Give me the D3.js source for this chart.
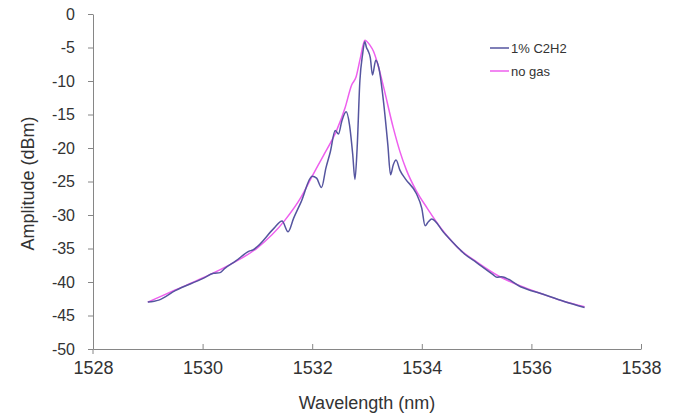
<!DOCTYPE html>
<html>
<head>
<meta charset="utf-8">
<script src="https://cdn.jsdelivr.net/npm/d3@7"></script>
<style>
  body { margin: 0; background: #fff; }
  text { font-family: "Liberation Sans", Arial, sans-serif; fill: #333; }
</style>
</head>
<body>
<svg id="chart"></svg>
<script>
// wavelength (nm) / amplitude (dBm)
let gasWl = [1529.0, 1529.2, 1529.5, 1530.0, 1530.2, 1530.32, 1530.4, 1530.6, 1530.85, 1530.92,
  1531.0, 1531.3, 1531.45, 1531.56, 1531.66, 1531.8, 1532.0, 1532.08, 1532.17, 1532.25,
  1532.33, 1532.42, 1532.48, 1532.54, 1532.62, 1532.68, 1532.74, 1532.78, 1532.82, 1532.87,
  1532.92, 1532.96, 1532.99, 1533.02, 1533.06, 1533.1, 1533.16, 1533.22, 1533.3, 1533.38,
  1533.43, 1533.48, 1533.53, 1533.6, 1533.7, 1533.9, 1534.0, 1534.06, 1534.12, 1534.18,
  1534.4, 1534.7, 1534.75, 1535.0, 1535.3, 1535.37, 1535.45, 1535.8, 1536.2, 1536.6, 1536.97];
let gasAmp = [-43.0, -42.7, -41.3, -39.5, -38.7, -38.6, -38.0, -36.9, -35.4, -35.2,
  -34.7, -32.0, -30.9, -32.5, -30.5, -28.0, -24.2, -24.5, -25.9, -23.0,
  -20.6, -17.4, -17.9, -16.0, -14.6, -16.5, -21.0, -24.7, -20.0, -10.0,
  -6.0, -4.1, -5.0, -5.5, -6.5, -9.1, -6.9, -8.2, -13.0, -19.5,
  -24.0, -22.5, -21.8, -23.3, -24.6, -26.8, -29.0, -31.6, -31.0, -30.6,
  -32.6, -35.2, -35.6, -37.1, -38.9, -39.3, -39.2, -40.7, -41.8, -42.9, -43.8];

let refWl = [1529.0, 1529.5, 1530.0, 1530.5, 1531.0, 1531.5, 1531.8, 1532.0, 1532.2, 1532.45,
  1532.6, 1532.72, 1532.8, 1532.88, 1532.96, 1533.05, 1533.12, 1533.2, 1533.3, 1533.48,
  1533.6, 1533.72, 1533.9, 1534.1, 1534.4, 1534.7, 1535.0, 1535.4, 1535.8, 1536.2,
  1536.6, 1536.97];
let refAmp = [-43.0, -41.2, -39.4, -37.4, -34.9, -30.8, -27.3, -24.2, -21.2, -17.3,
  -14.0, -10.6, -9.4, -6.5, -3.9, -4.6, -5.6, -7.6, -10.8, -17.0,
  -20.5, -23.3, -26.4, -29.0, -32.5, -35.2, -37.0, -39.1, -40.6, -41.8,
  -42.9, -43.7];

let xTicks = [1528, 1530, 1532, 1534, 1536, 1538];
let yTicks = [0, -5, -10, -15, -20, -25, -30, -35, -40, -45, -50];
let seriesNames = ["1% C2H2", "no gas"];

let width = 689, height = 418;
let margin = {top: 14, right: 48, bottom: 69, left: 93};
let gasColor = "#55559f", refColor = "#ee5fee";
let axisColor = "#868686";

let svg = d3.select("#chart").attr("width", width).attr("height", height);

let x = d3.scaleLinear().domain([1528, 1538]).range([margin.left, width - margin.right]);
let y = d3.scaleLinear().domain([-50, 0]).range([height - margin.bottom, margin.top]);

// y axis, ticks outward (plain hyphen as minus, like the original)
let yAxis = svg.append("g")
  .attr("transform", "translate(" + margin.left + ",0)")
  .call(d3.axisLeft(y).tickValues(yTicks).tickFormat(d => String(d))
    .tickSize(5).tickPadding(13).tickSizeOuter(0));
yAxis.select(".domain").attr("stroke", axisColor);
yAxis.selectAll(".tick line").attr("stroke", axisColor);
yAxis.selectAll(".tick text").attr("font-size", 16).attr("fill", "#333")
  .style("font-family", "Liberation Sans, Arial, sans-serif");

// x axis, ticks point up into the plot
let xAxis = svg.append("g")
  .attr("transform", "translate(0," + y(-50) + ")")
  .call(d3.axisBottom(x).tickValues(xTicks).tickFormat(d => String(d)).tickSize(0).tickPadding(12));
xAxis.select(".domain").attr("stroke", axisColor);
xAxis.selectAll(".tick").append("line")
  .attr("y1", -5).attr("y2", 0).attr("stroke", axisColor);
xAxis.selectAll(".tick text").attr("font-size", 18).attr("fill", "#333")
  .style("font-family", "Liberation Sans, Arial, sans-serif");
// small overhang of the y axis below the x axis
svg.append("line")
  .attr("x1", x(1528)).attr("x2", x(1528))
  .attr("y1", y(-50)).attr("y2", y(-50) + 5)
  .attr("stroke", axisColor);

// axis titles
svg.append("text")
  .attr("x", (x(1528) + x(1538)) / 2)
  .attr("y", 409)
  .attr("text-anchor", "middle")
  .attr("font-size", 18)
  .text("Wavelength (nm)");

svg.append("text")
  .attr("transform", "translate(34," + (y(-25) + 2) + ") rotate(-90)")
  .attr("text-anchor", "middle")
  .attr("font-size", 18)
  .text("Amplitude (dBm)");

// lines
let line = d3.line()
  .x(d => x(d[0]))
  .y(d => y(d[1]))
  .curve(d3.curveMonotoneX);

svg.append("path")
  .datum(refWl.map((w, i) => [w, refAmp[i]]))
  .attr("fill", "none")
  .attr("stroke", refColor)
  .attr("stroke-width", 1.5)
  .attr("d", line);

svg.append("path")
  .datum(gasWl.map((w, i) => [w, gasAmp[i]]))
  .attr("fill", "none")
  .attr("stroke", gasColor)
  .attr("stroke-width", 1.5)
  .attr("d", line);

// legend
let legend = svg.append("g").attr("transform", "translate(490,48)");
[gasColor, refColor].forEach(function(c, i) {
  legend.append("line")
    .attr("x1", 0).attr("x2", 19)
    .attr("y1", i * 23).attr("y2", i * 23)
    .attr("stroke", c).attr("stroke-width", 1.5);
  legend.append("text")
    .attr("x", 21).attr("y", i * 23)
    .attr("dy", "0.35em")
    .attr("font-size", 13)
    .text(seriesNames[i]);
});
</script>
</body>
</html>
